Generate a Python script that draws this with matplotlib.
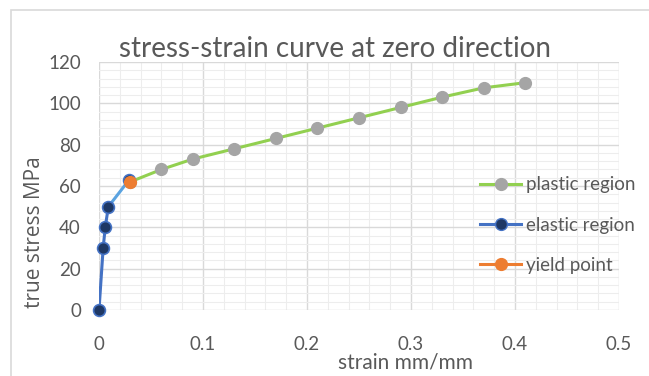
import numpy as np
import matplotlib.pyplot as plt
from matplotlib.ticker import MultipleLocator
from matplotlib.lines import Line2D

# strain (mm/mm) and true stress (MPa) per region
elastic_strain = [0.0, 0.004, 0.006, 0.009, 0.029]
elastic_stress = [0, 30, 40, 50, 63]
plastic_strain = [0.03, 0.06, 0.09, 0.13, 0.17, 0.21, 0.25, 0.29, 0.33, 0.37, 0.41]
plastic_stress = [62, 68, 73, 78, 83, 88, 93, 98, 103, 107.5, 110]
yield_strain = [0.03]
yield_stress = [62]

TEXT = "#595959"
GREEN = "#92D050"
GREY = "#A5A5A5"
BLUE = "#4472C4"
NAVY = "#1F3864"
ORANGE = "#ED7D31"
plt.rcParams['font.family'] = ['Lato', 'DejaVu Sans']

fig = plt.figure(figsize=(6.49, 3.76), dpi=100)
ax = fig.add_axes([99 / 649, 1 - 310 / 376, 520 / 649, 248 / 376])

ax.plot(plastic_strain, plastic_stress, color=GREEN, lw=2.2, marker="o", ms=8.5,
        mfc=GREY, mec=GREY, zorder=3)
ax.plot(elastic_strain[:-1], elastic_stress[:-1], color=BLUE, lw=2.2, zorder=3)
ax.plot(elastic_strain[-2:], elastic_stress[-2:], color="#5BA3E0", lw=2.2, zorder=3)
ax.plot(elastic_strain, elastic_stress, ls="none", marker="o", ms=8.5,
        mfc=NAVY, mec=BLUE, mew=1.2, zorder=4, clip_on=False)
ax.plot(yield_strain, yield_stress, ls="none", marker="o", ms=8.5,
        mfc=ORANGE, mec=ORANGE, zorder=5)

ax.set_xlim(0, 0.5)
ax.set_ylim(0, 120)
ax.xaxis.set_minor_locator(MultipleLocator(0.02))
ax.yaxis.set_major_locator(MultipleLocator(20))
ax.yaxis.set_minor_locator(MultipleLocator(4))
ax.set_xticks([0, 0.1, 0.2, 0.3, 0.4, 0.5])
ax.set_xticklabels(["0", "0.1", "0.2", "0.3", "0.4", "0.5"])
ax.grid(which="major", color="#D9D9D9", lw=1)
ax.grid(which="minor", color="#EDEDED", lw=0.8)
ax.set_axisbelow(True)
for s in ax.spines.values():
    s.set_visible(False)
ax.tick_params(which="both", length=0, labelsize=13.5, colors=TEXT)
ax.tick_params(axis="x", pad=18.5)
ax.tick_params(axis="y", pad=13)

ax.set_title("stress-strain curve at zero direction", fontsize=20, color=TEXT, pad=1, x=0.454)
ax.set_xlabel("strain mm/mm", fontsize=15, color=TEXT, labelpad=0, x=0.59)
ax.set_ylabel("true stress MPa", fontsize=15, color=TEXT, labelpad=2, y=0.315,
              family=["Open Sans", "DejaVu Sans"])

handles = [
    Line2D([], [], color=GREEN, lw=2.2, marker="o", ms=8.5, mfc=GREY, mec=GREY),
    Line2D([], [], color=BLUE, lw=2.2, marker="o", ms=8.5, mfc=NAVY, mec=BLUE),
    Line2D([], [], color=ORANGE, lw=2.2, marker="o", ms=8.5, mfc=ORANGE, mec=ORANGE),
]
labels = ["plastic region", "elastic region", "yield point"]
ax.legend(handles, labels, loc="center left", bbox_to_anchor=(480 / 649, 1 - 225 / 376),
          bbox_transform=fig.transFigure, frameon=False, fontsize=13.5, labelcolor=TEXT,
          handlelength=2.2, handletextpad=0.25, labelspacing=1.25, borderpad=0,
          borderaxespad=0)

# light chart border
fig.patches.append(plt.Rectangle((11 / 649, -0.01), 1.0, 1 - 10 / 376 + 0.01,
                                 transform=fig.transFigure, fill=False,
                                 ec="#D9D9D9", lw=1.2))

fig.savefig("out.png", dpi=100)
